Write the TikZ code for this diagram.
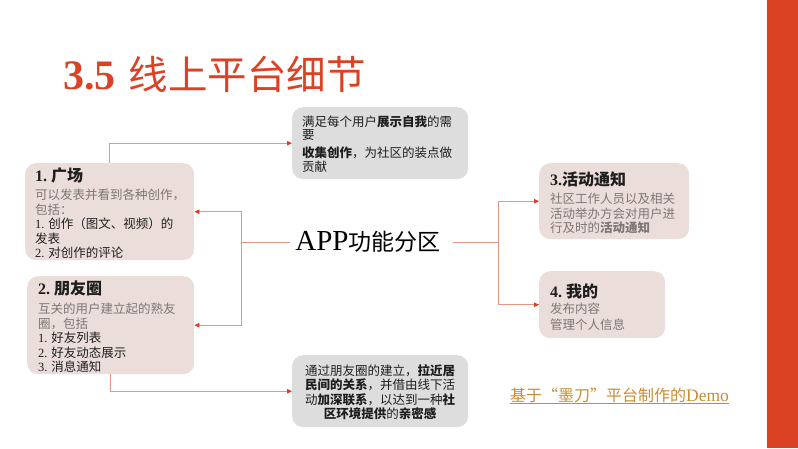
\documentclass[tikz,border=0pt]{standalone}
\usepackage{fontspec}
\setmainfont{Noto Sans CJK SC}
\newfontfamily\lat{Liberation Serif}
\newfontfamily\cjk{Noto Sans CJK SC}
\usetikzlibrary{arrows.meta}
\definecolor{accent}{RGB}{218,66,35}
\definecolor{pinkfill}{RGB}{235,222,218}
\definecolor{grayfill}{RGB}{222,221,222}
\definecolor{connline}{RGB}{230,150,130}
\definecolor{tipred}{RGB}{222,60,38}
\definecolor{bodygray}{RGB}{125,118,118}
\definecolor{darktext}{RGB}{30,30,30}
\definecolor{gold}{RGB}{200,140,50}
\newcommand{\boxhead}[2]{{\fontsize{16}{18}\selectfont\bfseries{\lat #1}#2}}
\begin{document}
\begin{tikzpicture}[x=1pt,y=-1pt,
  pinkbox/.style={fill=pinkfill, rounded corners=11pt, anchor=north west, inner sep=0pt},
  graybox/.style={fill=grayfill, rounded corners=11pt, anchor=north west, inner sep=0pt},
  boxtext/.style={anchor=north west, inner sep=0pt, align=left, font=\fontsize{12.5}{14.6}\selectfont, text=darktext},
  conn/.style={draw=connline, line width=0.8pt},
  arr/.style={conn, -{Triangle[length=5pt,width=4.5pt,color=tipred]}},
]
\useasboundingbox (0,0) rectangle (798,448);
\fill[accent] (767,0) rectangle (798,448);

% title
\node[anchor=base west, inner sep=0pt, text=accent] (title) at (63,89)
  {{\fontsize{42}{46}\selectfont\lat\bfseries 3.5}\hspace{13pt}{\fontsize{39.5}{44}\selectfont\cjk 线上平台细节}};

% boxes
\node[pinkbox, minimum width=169pt, minimum height=97pt] (b1) at (25,163) {};
\node[pinkbox, minimum width=167pt, minimum height=98pt] (b2) at (27,276) {};
\node[graybox, minimum width=176pt, minimum height=72pt] (g1) at (292,107) {};
\node[graybox, minimum width=176pt, minimum height=72pt] (g2) at (292,355) {};
\node[pinkbox, minimum width=150pt, minimum height=76pt] (b3) at (539,163) {};
\node[pinkbox, minimum width=126pt, minimum height=67pt] (b4) at (539,271) {};

% box texts
\node[boxtext] (t1) at (35,167.5) {\boxhead{1.\ }{广场}\\[3.5pt]
  \textcolor{bodygray}{可以发表并看到各种创作，}\\
  \textcolor{bodygray}{包括：}\\
  {\lat 1.} 创作（图文、视频）的\\
  发表\\
  {\lat 2.} 对创作的评论};

\node[boxtext] (t2) at (38,280.5) {\boxhead{2.\ }{朋友圈}\\[4.5pt]
  \textcolor{bodygray}{互关的用户建立起的熟友}\\
  \textcolor{bodygray}{圈，包括}\\
  {\lat 1.} 好友列表\\
  {\lat 2.} 好友动态展示\\
  {\lat 3.} 消息通知};

\node[boxtext, text=bodygray] (t3) at (550,171.5) {\textcolor{darktext}{\boxhead{3.}{活动通知}}\\[3.5pt]
  社区工作人员以及相关\\
  活动举办方会对用户进\\
  行及时的\textbf{活动通知}};

\node[boxtext, text=bodygray, font=\fontsize{12.5}{15.6}\selectfont] (t4) at (550,284) {\textcolor{darktext}{\boxhead{4.\ }{我的}}\\[0.5pt]
  发布内容\\
  管理个人信息};

\node[boxtext, font=\fontsize{12.5}{13.5}\selectfont] (tg1) at (302,115.3) {满足每个用户\textbf{展示自我}的需\\
  要\\[4.5pt]
  \textbf{收集创作}，为社区的装点做\\
  贡献};

\node[boxtext, anchor=north, align=center, font=\fontsize{12.5}{14.3}\selectfont] (tg2) at (380,364.5)
  {通过朋友圈的建立，\textbf{拉近居}\\
  \textbf{民间的关系}，并借由线下活\\
  动\textbf{加深联系}，以达到一种\textbf{社}\\
  \textbf{区环境提供}的\textbf{亲密感}};

% centre
\node[inner sep=0pt, text=black] (c) at (368,242)
  {{\lat\fontsize{29}{30}\selectfont APP}{\fontsize{23}{26}\selectfont 功能分区}};

% connectors
\coordinate (lj) at (241,242);
\coordinate (rj) at (498,242);
\draw[conn, shorten <=5pt] (c.west) -- (lj);
\draw[arr] (lj) |- (b1.east);
\draw[arr] (lj) |- (b2.east);
\draw[conn, shorten <=12pt] (c.east) -- (rj);
\draw[arr] (rj) |- (b3.west);
\draw[arr] (rj) |- (b4.west);
\draw[arr] (b1.north) |- (g1.west);
\draw[arr] (b2.south) |- (g2.west);

% demo link
\node[anchor=base west, inner sep=0pt, text=gold] (demo) at (510,401.5)
  {\fontsize{16}{18}\selectfont 基于“墨刀”平台制作的{\lat\fontsize{17.5}{18}\selectfont Demo}};
\draw[gold, line width=0.8pt] ([yshift=-2pt]demo.base west) -- ([yshift=-2pt]demo.base east);
\end{tikzpicture}
\end{document}
